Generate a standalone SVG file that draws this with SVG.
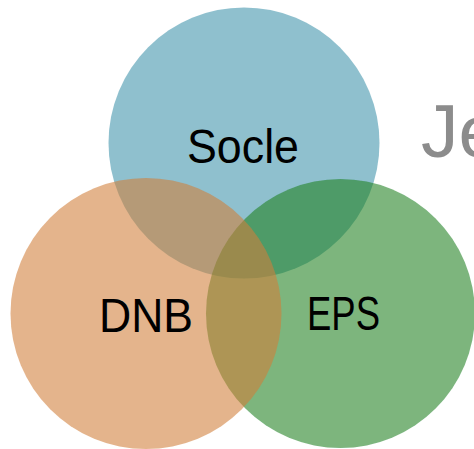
<svg xmlns="http://www.w3.org/2000/svg" width="474" height="449" viewBox="0 0 474 449">
  <style>
    .set { fill-opacity: 0.58; }
    .label { font-family: "Liberation Sans", Arial, sans-serif; font-size: 48px; fill: #000000; text-anchor: middle; }
    .title { font-family: "Liberation Sans", Arial, sans-serif; font-size: 75px; fill: #8c8c8c; }
  </style>
  <defs>
    <filter id="soft" x="-5%" y="-5%" width="110%" height="110%">
      <feGaussianBlur stdDeviation="0.7"/>
    </filter>
  </defs>
  <rect width="474" height="449" fill="#ffffff"/>

  <!-- heading, cut at the right border -->
  <text class="title" x="421" y="157">Je</text>

  <g id="socle">
    <circle class="set" cx="244" cy="143" r="135.5" fill="#3e92ab" filter="url(#soft)"/>
    <text class="label" x="243" y="163" textLength="112" lengthAdjust="spacingAndGlyphs">Socle</text>
  </g>
  <g id="eps">
    <circle class="set" cx="340.5" cy="313.5" r="134.5" fill="#1b7f22" filter="url(#soft)"/>
  </g>
  <g id="dnb">
    <circle class="set" cx="146" cy="313.5" r="135.5" fill="#d07e39" filter="url(#soft)"/>
  </g>
  <text class="label" x="343.5" y="330" textLength="73" lengthAdjust="spacingAndGlyphs">EPS</text>
  <text class="label" x="146" y="332" textLength="94" lengthAdjust="spacingAndGlyphs">DNB</text>

  <g id="connectors"/>
</svg>
